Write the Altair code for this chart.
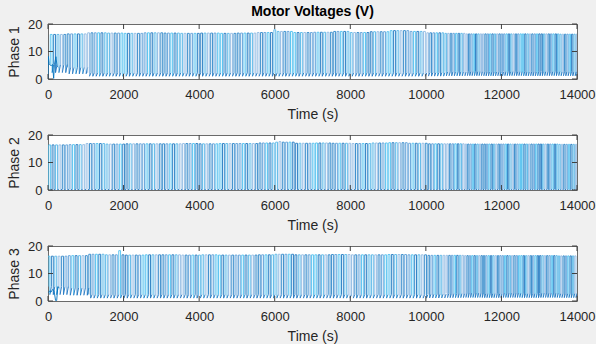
import altair as alt
import pandas as pd

# ---- data (per 500 s block) ----
block_start = [0, 500, 1000, 1500, 2000, 2500, 3000, 3500, 4000, 4500, 5000, 5500, 6000, 6500,
               7000, 7500, 8000, 8500, 9000, 9500, 10000, 10500, 11000, 11500, 12000, 12500, 13000, 13500]
block_period = [90, 90, 88, 88, 88, 88, 88, 88, 88, 88, 88, 88, 88, 88,
                88, 88, 88, 88, 88, 88, 80, 70, 62, 62, 62, 62, 62, 62]

p1_high = [16.2, 16.4, 16.8, 16.7, 16.6, 16.8, 16.7, 16.6, 16.7, 16.6, 16.7, 16.9, 17.3, 16.9,
           17.0, 17.3, 16.9, 17.2, 17.6, 17.3, 16.8, 16.6, 16.4, 16.4, 16.4, 16.4, 16.4, 16.3]
p1_low = [4.2, 3.4, 1.8, 1.8, 1.8, 1.8, 1.8, 1.8, 1.8, 1.8, 1.8, 1.8, 1.8, 1.8,
          1.8, 1.8, 1.8, 1.8, 1.8, 1.8, 1.9, 2.1, 2.2, 2.1, 2.2, 2.1, 2.2, 2.1]

p2_high = [16.4, 16.5, 16.9, 16.7, 16.8, 16.8, 16.8, 16.9, 16.8, 16.9, 16.9, 17.1, 17.4, 17.0,
           17.1, 17.0, 16.9, 17.1, 17.2, 17.0, 16.8, 16.8, 16.7, 16.7, 16.7, 16.7, 16.7, 16.6]
p2_low = [0.2, 0.2, 0.2, 0.2, 0.2, 0.2, 0.2, 0.2, 0.2, 0.2, 0.2, 0.2, 0.2, 0.2,
          0.2, 0.2, 0.2, 0.2, 0.2, 0.2, 0.2, 0.2, 0.2, 0.2, 0.2, 0.2, 0.2, 0.2]

p3_high = [16.3, 16.5, 17.0, 16.8, 16.7, 16.8, 16.8, 16.7, 16.8, 16.7, 16.7, 16.8, 17.0, 16.8,
           16.8, 16.9, 16.8, 16.8, 16.9, 16.8, 16.6, 16.6, 16.5, 16.5, 16.5, 16.5, 16.5, 16.4]
p3_low = [4.2, 3.8, 1.9, 1.9, 1.9, 1.9, 1.9, 1.9, 1.9, 1.9, 1.9, 1.9, 1.9, 1.9,
          1.9, 1.9, 1.9, 1.9, 1.9, 1.9, 2.0, 2.2, 2.3, 2.2, 2.3, 2.2, 2.3, 2.2]

# start-up transients
p1_early_t = [0, 10, 30, 60, 90, 120, 150, 170, 210, 240, 270]
p1_early_v = [0.0, 8.2, 5.6, 5.0, 4.9, 5.3, 0.2, 5.2, 8.1, 4.6, 4.3]
p3_early_t = [0, 40, 80, 120, 160, 200, 230, 260, 300]
p3_early_v = [3.0, 3.6, 3.2, 4.2, 3.8, 0.2, 0.2, 5.2, 4.8]

# isolated spikes (time, peak)
p1_spikes = [(6000, 17.9)]
p2_spikes = [(6200, 17.6)]
p3_spikes = [(1900, 18.3)]

x_ticks = [0, 2000, 4000, 6000, 8000, 10000, 12000, 14000]
y_ticks = [0, 10, 20]
shades = ["#4dbeee", "#5d9fd8", "#2c86c8", "#8fb9e2", "#56b6e6", "#1f78c1"]
low_color = "#1f74bf"

W, H = 529, 55

XS = alt.Scale(domain=[0, 14000], nice=False, zero=False)
YS = alt.Scale(domain=[0, 20], nice=False, zero=False)


def build(high, low, early_t, early_v, spikes, t0):
    rows = []
    pid = 0
    t = t0
    for i, bs in enumerate(block_start):
        be = bs + 500
        per = block_period[i]
        while t < be and t < 14000:
            tf = min(t + per * 0.55, 14000)
            tn = min(t + per, 14000)
            hv = high[i]
            for (st, sv) in spikes:
                if t <= st < t + per:
                    hv = sv
            lo = low[i]
            c = shades[(pid * 5 + i) % len(shades)]
            for k, (a, b) in enumerate([(t, lo * 1.25), (t, hv), (tf, hv), (tf, lo * 0.55)]):
                rows.append({"t": a, "v": b, "g": f"h{pid}", "c": c, "k": k})
            for k, (a, b) in enumerate([(tf, lo * 0.55), (tn, lo * 1.25)]):
                rows.append({"t": a, "v": b, "g": f"l{pid}", "c": low_color, "k": k})
            pid += 1
            t = t + per
    for k, (a, b) in enumerate(zip(early_t, early_v)):
        rows.append({"t": a, "v": b, "g": "early", "c": "#0072bd", "k": k})
    return pd.DataFrame(rows)


def panel(df, name, title=None):
    xax = alt.Axis(values=x_ticks, format="d", title="Time (s)", grid=False,
                   ticks=False, domain=False, labelPadding=9, titlePadding=6,
                   labelFlush=False, labelOverlap=False)
    yax = alt.Axis(values=y_ticks, format="d", title=name, grid=False, ticks=False,
                   domain=False, labelPadding=6, titlePadding=6, labelFlush=False,
                   labelOverlap=False)
    lines = alt.Chart(df).mark_line(strokeWidth=0.9, clip=True).encode(
        x=alt.X("t:Q", scale=XS, axis=xax),
        y=alt.Y("v:Q", scale=YS, axis=yax),
        detail="g:N", color=alt.Color("c:N", scale=None), order="k:Q"
    )
    tdf = pd.DataFrame({"t": x_ticks})
    vdf = pd.DataFrame({"v": y_ticks})
    tick_top = alt.Chart(tdf).mark_rule(color="#404040").encode(
        x=alt.X("t:Q", scale=XS, axis=xax), y=alt.value(0), y2=alt.value(5))
    tick_bot = alt.Chart(tdf).mark_rule(color="#404040").encode(
        x=alt.X("t:Q", scale=XS, axis=xax), y=alt.value(H), y2=alt.value(H - 5))
    tick_l = alt.Chart(vdf).mark_rule(color="#404040").encode(
        y=alt.Y("v:Q", scale=YS, axis=yax), x=alt.value(0), x2=alt.value(5))
    tick_r = alt.Chart(vdf).mark_rule(color="#404040").encode(
        y=alt.Y("v:Q", scale=YS, axis=yax), x=alt.value(W), x2=alt.value(W - 5))
    ch = alt.layer(lines, tick_top, tick_bot, tick_l, tick_r).properties(width=W, height=H)
    if title:
        ch = ch.properties(title=alt.TitleParams(title, fontSize=14, fontWeight="bold",
                                                 font="Liberation Sans", color="#000000",
                                                 offset=-1))
    return ch


d1 = build(p1_high, p1_low, p1_early_t, p1_early_v, p1_spikes, 60)
d2 = build(p2_high, p2_low, [], [], p2_spikes, 20)
d3 = build(p3_high, p3_low, p3_early_t, p3_early_v, p3_spikes, 0)

chart = alt.vconcat(
    panel(d1, "Phase 1", "Motor Voltages (V)"),
    panel(d2, "Phase 2"),
    panel(d3, "Phase 3"),
    spacing=6,
).properties(
    background="#f0f0f0",
    padding={"left": 7, "top": 4, "right": 0, "bottom": 0},
).configure_view(
    fill="#ffffff", stroke="#6a6a6a", strokeWidth=1
).configure_axis(
    labelFont="Liberation Sans", titleFont="Liberation Sans", labelFontSize=13,
    titleFontSize=14, titleFontWeight="normal", labelColor="#262626", titleColor="#262626"
)

chart.save("out.html", embed_options={"renderer": "svg", "actions": False})
